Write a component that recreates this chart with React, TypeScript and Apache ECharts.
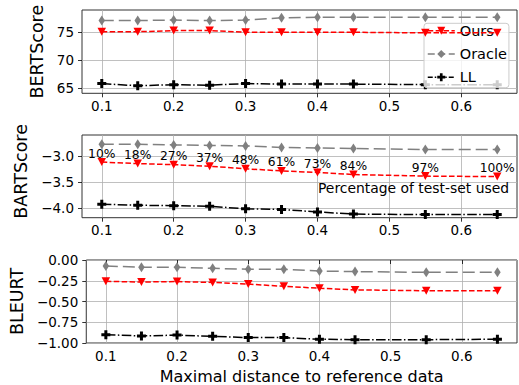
import { useEffect, useRef } from 'react';
import * as echarts from 'echarts';

const distances = [0.1, 0.15, 0.2, 0.25, 0.3, 0.35, 0.4, 0.45, 0.55, 0.65];
const testSetPct = ['10%', '18%', '27%', '37%', '48%', '61%', '73%', '84%', '97%', '100%'];

const bertOurs = [75.1, 75.1, 75.3, 75.3, 75.0, 75.0, 75.0, 75.0, 74.9, 74.9];
const bertOracle = [77.1, 77.1, 77.2, 77.1, 77.2, 77.6, 77.7, 77.7, 77.7, 77.7];
const bertLL = [65.8, 65.4, 65.6, 65.5, 65.8, 65.7, 65.7, 65.7, 65.6, 65.6];

const bartOurs = [-3.12, -3.15, -3.17, -3.2, -3.25, -3.29, -3.32, -3.36, -3.39, -3.4];
const bartOracle = [-2.78, -2.78, -2.79, -2.8, -2.81, -2.84, -2.85, -2.86, -2.88, -2.88];
const bartLL = [-3.93, -3.95, -3.96, -3.97, -4.02, -4.03, -4.08, -4.12, -4.13, -4.13];

const bleurtOurs = [-0.257, -0.265, -0.26, -0.27, -0.29, -0.317, -0.34, -0.36, -0.37, -0.37];
const bleurtOracle = [-0.072, -0.088, -0.088, -0.1, -0.112, -0.112, -0.133, -0.14, -0.149, -0.149];
const bleurtLL = [-0.9, -0.915, -0.905, -0.92, -0.935, -0.935, -0.955, -0.96, -0.96, -0.955];

const xTicks = [0.1, 0.2, 0.3, 0.4, 0.5, 0.6];
const xTickLabels = ['0.1', '0.2', '0.3', '0.4', '0.5', '0.6'];
const bertTicks = [65, 70, 75];
const bertTickLabels = ['65', '70', '75'];
const bartTicks = [-4.0, -3.5, -3.0];
const bartTickLabels = ['\u22124.0', '\u22123.5', '\u22123.0'];
const bleurtTicks = [-1.0, -0.75, -0.5, -0.25, 0.0];
const bleurtTickLabels = ['\u22121.00', '\u22120.75', '\u22120.50', '\u22120.25', '0.00'];

const FONT = 'DejaVu Sans';

const OURS_DASH = [5.5, 2.4];
const ORACLE_DASH = [12, 5];
const LL_DASH = [9.6, 2.4, 1.5, 2.4];

function labelFor(ticks: number[], labels: string[]) {
  return (v: number) => {
    const i = ticks.findIndex((t) => Math.abs(t - v) < 1e-9);
    return i >= 0 ? labels[i] : '';
  };
}

export default function App() {
  const ref = useRef<HTMLDivElement>(null);

  useEffect(() => {
    if (!ref.current) return;
    const chart = echarts.init(ref.current, undefined, { renderer: 'svg' });

    const grids = [
      { left: 82, right: 2, top: 10, height: 83.3 },
      { left: 82, right: 2, top: 135, height: 82.7 },
      { left: 82, right: 2, top: 260, height: 83.3 },
    ].map((g) => ({ ...g, show: true, borderColor: '#333', borderWidth: 1, backgroundColor: 'transparent' }));

    const xAxes = [0, 1, 2].map((i) => ({
      type: 'value',
      gridIndex: i,
      min: 0.0725,
      max: 0.6775,
      axisLine: { show: false },
      axisTick: { show: true, length: 4, customValues: xTicks, lineStyle: { color: '#000', width: 0.8 } },
      axisLabel: {
        customValues: xTicks,
        formatter: labelFor(xTicks, xTickLabels),
        fontFamily: FONT,
        fontSize: 13.5,
        color: '#000',
        margin: 5.5,
      },
      splitLine: { show: true, lineStyle: { color: '#b0b0b0', width: 0.8 } },
      ...(i === 2
        ? {
            name: 'Maximal distance to reference data',
            nameLocation: 'middle',
            nameGap: 25,
            nameTextStyle: { fontFamily: FONT, fontSize: 16, color: '#000' },
          }
        : {}),
    }));

    const yDefs = [
      { name: 'BERTScore', min: 64.05, max: 79.0, ticks: bertTicks, labels: bertTickLabels, gap: 28, pad: [0, 0, 0, 0] },
      { name: 'BARTScore', min: -4.19, max: -2.6, ticks: bartTicks, labels: bartTickLabels, gap: 43.5, pad: [0, 0, 0, 10] },
      { name: 'BLEURT', min: -1.0, max: 0.0, ticks: bleurtTicks, labels: bleurtTickLabels, gap: 53.5, pad: [0, 0, 0, 0] },
    ];
    const yAxes = yDefs.map((d, i) => ({
      type: 'value',
      gridIndex: i,
      min: d.min,
      max: d.max,
      name: d.name,
      nameLocation: 'middle',
      nameGap: d.gap,
      nameTextStyle: { fontFamily: FONT, fontSize: 17.5, color: '#000', padding: d.pad },
      axisLine: { show: false },
      axisTick: { show: true, length: 4, customValues: d.ticks, lineStyle: { color: '#000', width: 0.8 } },
      axisLabel: {
        customValues: d.ticks,
        formatter: labelFor(d.ticks, d.labels),
        fontFamily: FONT,
        fontSize: 13.5,
        color: '#000',
        margin: 8,
      },
      splitLine: { show: true, lineStyle: { color: '#b0b0b0', width: 0.8 } },
    }));

    const pairs = (arr: number[]) => distances.map((x, i) => [x, arr[i]]);

    const ours = (i: number, arr: number[], extra: any = {}) => ({
      type: 'line',
      name: 'Ours',
      xAxisIndex: i,
      yAxisIndex: i,
      data: pairs(arr),
      symbol: 'path://M0,0L2,0L1,2Z',
      symbolSize: [8.5, 8],
      itemStyle: { color: '#ff0000' },
      lineStyle: { color: '#ff0000', width: 1.5, type: OURS_DASH },
      z: 4,
      ...extra,
    });
    const oracle = (i: number, arr: number[]) => ({
      type: 'line',
      name: 'Oracle',
      xAxisIndex: i,
      yAxisIndex: i,
      data: pairs(arr),
      symbol: 'diamond',
      symbolSize: [6.5, 10],
      itemStyle: { color: '#808080' },
      lineStyle: { color: '#808080', width: 1.5, type: ORACLE_DASH },
      z: 3,
    });
    const ll = (i: number, arr: number[]) => ({
      type: 'line',
      name: 'LL',
      xAxisIndex: i,
      yAxisIndex: i,
      data: pairs(arr),
      symbol: 'path://M1,0H2V1H3V2H2V3H1V2H0V1H1Z',
      symbolSize: 9,
      itemStyle: { color: '#000000' },
      lineStyle: { color: '#000000', width: 1.5, type: LL_DASH },
      z: 3,
    });

    const series = [
      ours(0, bertOurs),
      oracle(0, bertOracle),
      ll(0, bertLL),
      ours(1, bartOurs, {
        label: {
          show: true,
          position: 'inside',
          offset: [0, -8.5],
          formatter: (p: any) => testSetPct[p.dataIndex],
          fontFamily: FONT,
          fontSize: 12.3,
          color: '#000',
        },
      }),
      oracle(1, bartOracle),
      ll(1, bartLL),
      ours(2, bleurtOurs),
      oracle(2, bleurtOracle),
      ll(2, bleurtLL),
    ];

    chart.setOption({
      animation: false,
      backgroundColor: '#ffffff',
      grid: grids,
      xAxis: xAxes,
      yAxis: yAxes,
      legend: {
        data: [
          { name: 'Ours', lineStyle: { type: OURS_DASH, width: 1.5 } },
          { name: 'Oracle', lineStyle: { type: [7, 3.5], width: 1.5 } },
          { name: 'LL', lineStyle: { type: [5, 2, 1.5, 2], width: 1.5 } },
        ],
        orient: 'vertical',
        left: 424,
        top: 23.3,
        padding: [0, 2, 3, 3],
        itemWidth: 27,
        itemHeight: 10,
        itemGap: 8.2,
        backgroundColor: 'rgba(255,255,255,0.8)',
        borderColor: '#cccccc',
        borderWidth: 1,
        borderRadius: 3,
        textStyle: { fontFamily: FONT, fontSize: 14.5, color: '#000' },
        selectedMode: false,
      },
      graphic: [
        {
          type: 'text',
          x: 413.5,
          y: 187.5,
          style: {
            text: 'Percentage of test-set used',
            fontFamily: FONT,
            fontSize: 13.9,
            fill: '#000',
            textAlign: 'center',
            textVerticalAlign: 'middle',
          },
          z: 10,
        },
      ],
      series,
    });

    return () => chart.dispose();
  }, []);

  return <div ref={ref} style={{ position: 'fixed', left: 0, top: 0, width: 519, height: 385 }} />;
}
